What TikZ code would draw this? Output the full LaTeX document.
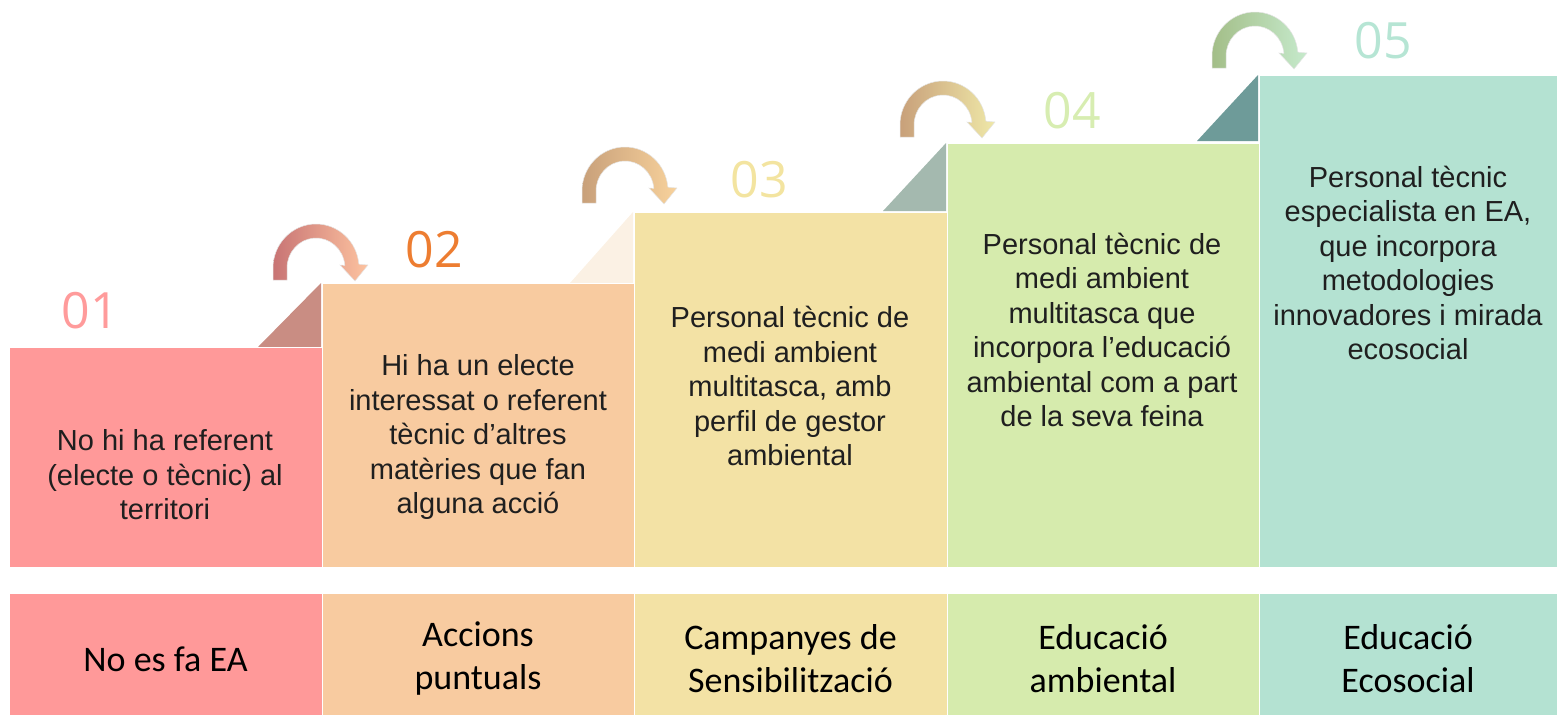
\documentclass[tikz,border=0pt]{standalone}
\usepackage{fontspec}
\setmainfont{Liberation Sans}
\newfontfamily\numfont{Open Sans}
\newfontfamily\calfont{Carlito}
\definecolor{cA}{HTML}{FF9999}
\definecolor{cB}{HTML}{F8CBA0}
\definecolor{cC}{HTML}{F3E2A5}
\definecolor{cD}{HTML}{D6EBAD}
\definecolor{cE}{HTML}{B4E2D2}
\definecolor{nA}{HTML}{FF9B9B}
\definecolor{nB}{HTML}{ED7D31}
\definecolor{nC}{HTML}{F3E4A0}
\definecolor{nD}{HTML}{D7EDB1}
\definecolor{nE}{HTML}{B6E5D4}
\definecolor{tA}{HTML}{C98D83}
\definecolor{tB}{HTML}{FBF1E4}
\definecolor{tC}{HTML}{A4B9AF}
\definecolor{tD}{HTML}{6E9B99}
\definecolor{aAl}{HTML}{C87474}
\definecolor{aAr}{HTML}{FDC3A0}
\definecolor{aBl}{HTML}{C8A07A}
\definecolor{aBr}{HTML}{F8D29C}
\definecolor{aCl}{HTML}{C8A07A}
\definecolor{aCr}{HTML}{EFE8A8}
\definecolor{aDl}{HTML}{A3BE88}
\definecolor{aDr}{HTML}{C6EACC}
\tikzset{
  blk/.style={rectangle, draw=white, line width=1pt, inner sep=0pt, outer sep=0pt, anchor=north west},
  desc/.style={align=center, font=\fontsize{29}{34.5}\selectfont, text=black!88},
  lbl/.style={align=center, font=\calfont\fontsize{36}{43}\selectfont, text=black},
  num/.style={font=\numfont\fontsize{50}{60}\selectfont},
}
\newcommand\curvarrow[4]{%
  \shade[shift={(#1,#2)}, left color=#3, right color=#4, draw=black!10, line width=0.5pt]
    (0,0) -- (0,-12) arc[start angle=180, end angle=355, x radius=43, y radius=44]
    -- (95,-15) -- (82,1) -- (67,-15) -- (71.89,-14.61)
    arc[start angle=355, end angle=180, x radius=29, y radius=30] -- (14,0) -- cycle;}
\begin{document}
\begin{tikzpicture}[x=1pt, y=-1pt]
\useasboundingbox (0,0) rectangle (1557,715);
% triangles
\fill[tA] (258,347) -- (321,347) -- (321,283) -- cycle;
\fill[tB] (570,283) -- (633,283) -- (633,212) -- cycle;
\fill[tC] (883,211) -- (946,211) -- (946,143) -- cycle;
\fill[tD] (1197,141) -- (1258,141) -- (1258,75) -- cycle;
% top blocks
\node[blk, fill=cA, minimum width=313pt, minimum height=220pt] (b1) at (9,347) {};
\node[blk, fill=cB, minimum width=312pt, minimum height=284pt] (b2) at (322,283) {};
\node[blk, fill=cC, minimum width=313pt, minimum height=355pt] (b3) at (634,212) {};
\node[blk, fill=cD, minimum width=312pt, minimum height=424pt] (b4) at (947,143) {};
\node[blk, fill=cE, minimum width=298pt, minimum height=492pt] (b5) at (1259,75) {};
% bottom blocks
\node[blk, fill=cA, minimum width=313pt, minimum height=122pt] (l1) at (9,593) {};
\node[blk, fill=cB, minimum width=312pt, minimum height=122pt] (l2) at (322,593) {};
\node[blk, fill=cC, minimum width=313pt, minimum height=122pt] (l3) at (634,593) {};
\node[blk, fill=cD, minimum width=312pt, minimum height=122pt] (l4) at (947,593) {};
\node[blk, fill=cE, minimum width=298pt, minimum height=122pt] (l5) at (1259,593) {};
% descriptions
\node[desc] (d1) at (165,475) {No hi ha referent\\(electe o tècnic) al\\territori};
\node[desc] (d2) at (478,437) {Hi ha un electe\\interessat o referent\\tècnic d’altres\\matèries que fan\\alguna acció};
\node[desc] (d3) at (790,386) {Personal tècnic de\\medi ambient\\multitasca, amb\\perfil de gestor\\ambiental};
\node[desc] (d4) at (1102,330) {Personal tècnic de\\medi ambient\\multitasca que\\incorpora l’educació\\ambiental com a part\\de la seva feina};
\node[desc] (d5) at (1408,263) {Personal tècnic\\especialista en EA,\\que incorpora\\metodologies\\innovadores i mirada\\ecosocial};
% labels
\node[lbl] (t1) at ([yshift=-5pt]l1.center) {No es fa EA};
\node[lbl] (t2) at ([yshift=-5pt]l2.center) {Accions\\puntuals};
\node[lbl] (t3) at ([yshift=-5pt]l3.center) {Campanyes de\\Sensibilització};
\node[lbl] (t4) at ([yshift=-5pt]l4.center) {Educació\\ambiental};
\node[lbl] (t5) at ([yshift=-5pt]l5.center) {Educació\\Ecosocial};
% numbers
\node[num, text=nA] (n1) at (90,311) {01};
\node[num, text=nB] (n2) at (434,250) {02};
\node[num, text=nC] (n3) at (759,180) {03};
\node[num, text=nD] (n4) at (1072,111) {04};
\node[num, text=nE] (n5) at (1383,41) {05};
% arrows
\curvarrow{273}{280}{aAl}{aAr}
\curvarrow{582}{203}{aBl}{aBr}
\curvarrow{900}{137}{aCl}{aCr}
\curvarrow{1212}{68}{aDl}{aDr}
\end{tikzpicture}
\end{document}
